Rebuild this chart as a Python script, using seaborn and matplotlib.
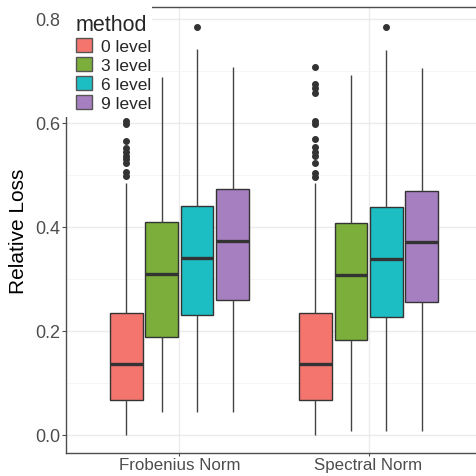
import numpy as np
import pandas as pd
import matplotlib
matplotlib.use("Agg")
import matplotlib.pyplot as plt
from matplotlib.patches import Rectangle
import seaborn as sns

# ---- data ----
categories = ["Frobenius Norm", "Spectral Norm"]
methods = ["0 level", "3 level", "6 level", "9 level"]
colors = ["#F4756E", "#7BAE3B", "#1CBEC4", "#A67FC0"]

# summary statistics per category, order follows `methods`
frob_whislo = [0.000, 0.044, 0.044, 0.044]
frob_q1 = [0.067, 0.187, 0.2295, 0.2596]
frob_med = [0.1365, 0.310, 0.3397, 0.3725]
frob_q3 = [0.2346, 0.409, 0.4398, 0.473]
frob_whishi = [0.485, 0.688, 0.742, 0.707]
frob_outliers = [
    [0.603, 0.597, 0.566, 0.552, 0.544, 0.537, 0.531, 0.523, 0.506, 0.498],
    [],
    [0.784],
    [],
]

spec_whislo = [0.000, 0.007, 0.007, 0.007]
spec_q1 = [0.067, 0.182, 0.2256, 0.255]
spec_med = [0.1365, 0.308, 0.337, 0.371]
spec_q3 = [0.2346, 0.408, 0.438, 0.469]
spec_whishi = [0.485, 0.692, 0.741, 0.706]
spec_outliers = [
    [0.707, 0.675, 0.667, 0.658, 0.604, 0.598, 0.568, 0.553, 0.544, 0.536,
     0.522, 0.504, 0.496],
    [],
    [0.784],
    [],
]

# ---- build a sample per box whose box statistics equal the values above ----
stats = {
    categories[0]: (frob_whislo, frob_q1, frob_med, frob_q3, frob_whishi, frob_outliers),
    categories[1]: (spec_whislo, spec_q1, spec_med, spec_q3, spec_whishi, spec_outliers),
}
BLOCK = 20
rows = []
for cat in categories:
    lo, q1, md, q3, hi, outl = stats[cat]
    for i, m in enumerate(methods):
        vals = [lo[i]] + [q1[i]] * BLOCK + [md[i]] * BLOCK + [q3[i]] * BLOCK + [hi[i]] + list(outl[i])
        for v in vals:
            rows.append({"norm": cat, "method": m, "value": v})
df = pd.DataFrame(rows)

# ---- figure ----
sns.set_theme(style="white")
plt.rcParams["font.family"] = ["Liberation Sans", "DejaVu Sans"]

W = H = 477
fig = plt.figure(figsize=(W / 100, H / 100), dpi=100)
ax = fig.add_axes([66 / W, (H - 454) / H, (482 - 66) / W, (454 - 8) / H])

sns.boxplot(
    data=df, x="norm", y="value", hue="method", order=categories,
    hue_order=methods, palette=colors, width=0.75, gap=0.08, ax=ax,
    linewidth=1.0, linecolor="#333333", showcaps=False, saturation=1,
    fliersize=4.0,
    flierprops=dict(marker="o", markerfacecolor="#333333", markeredgecolor="#333333"),
    medianprops=dict(linewidth=2.4, color="#333333"),
    whiskerprops=dict(color="#444444", linewidth=1.0),
)

ax.set_xlim(-0.6, 1.6)
ax.set_ylim(-0.0355, 0.823)
ax.set_yticks([0.0, 0.2, 0.4, 0.6, 0.8])
ax.set_yticklabels(["0.0", "0.2", "0.4", "0.6", "0.8"])
ax.set_yticks([0.1, 0.3, 0.5, 0.7], minor=True)
ax.grid(True, which="major", color="#EBEBEB", linewidth=1.0)
ax.grid(True, which="minor", axis="y", color="#F4F4F4", linewidth=0.6)
ax.set_axisbelow(True)

for s in ax.spines.values():
    s.set_color("#4D4D4D")
    s.set_linewidth(1.0)

ax.tick_params(axis="y", which="major", length=3, width=0.8, color="#4D4D4D",
               labelsize=13, labelcolor="#4D4D4D", pad=1.2, left=True)
ax.tick_params(axis="x", which="major", length=2.5, width=0.8, color="#4D4D4D",
               labelsize=12.2, labelcolor="#4D4D4D", pad=0.3, bottom=True)
ax.tick_params(axis="y", which="minor", length=0)
ax.set_xlabel("")
ax.set_ylabel("Relative Loss", fontsize=15, color="black", labelpad=5)

# legend area (white background covering the top-left corner of the panel)
ax.add_patch(Rectangle((61 / W, 1 - 118 / H), (152 - 61) / W, 118 / H,
                       transform=fig.transFigure, facecolor="white",
                       edgecolor="none", zorder=3, clip_on=False))
handles, labels = ax.get_legend_handles_labels()
leg = ax.legend(handles, labels, title="method", loc="upper left",
                bbox_to_anchor=(67 / W, 1 - 6 / H), bbox_transform=fig.transFigure,
                frameon=False, fontsize=12.5, title_fontsize=15.5, borderpad=0,
                handlelength=0.95, handleheight=0.85, handletextpad=0.5,
                labelspacing=0.18, alignment="left")
leg.set_zorder(6)
for h in leg.legend_handles:
    h.set_edgecolor("#555555")
    h.set_linewidth(1.0)

fig.savefig("out.png", dpi=100)
